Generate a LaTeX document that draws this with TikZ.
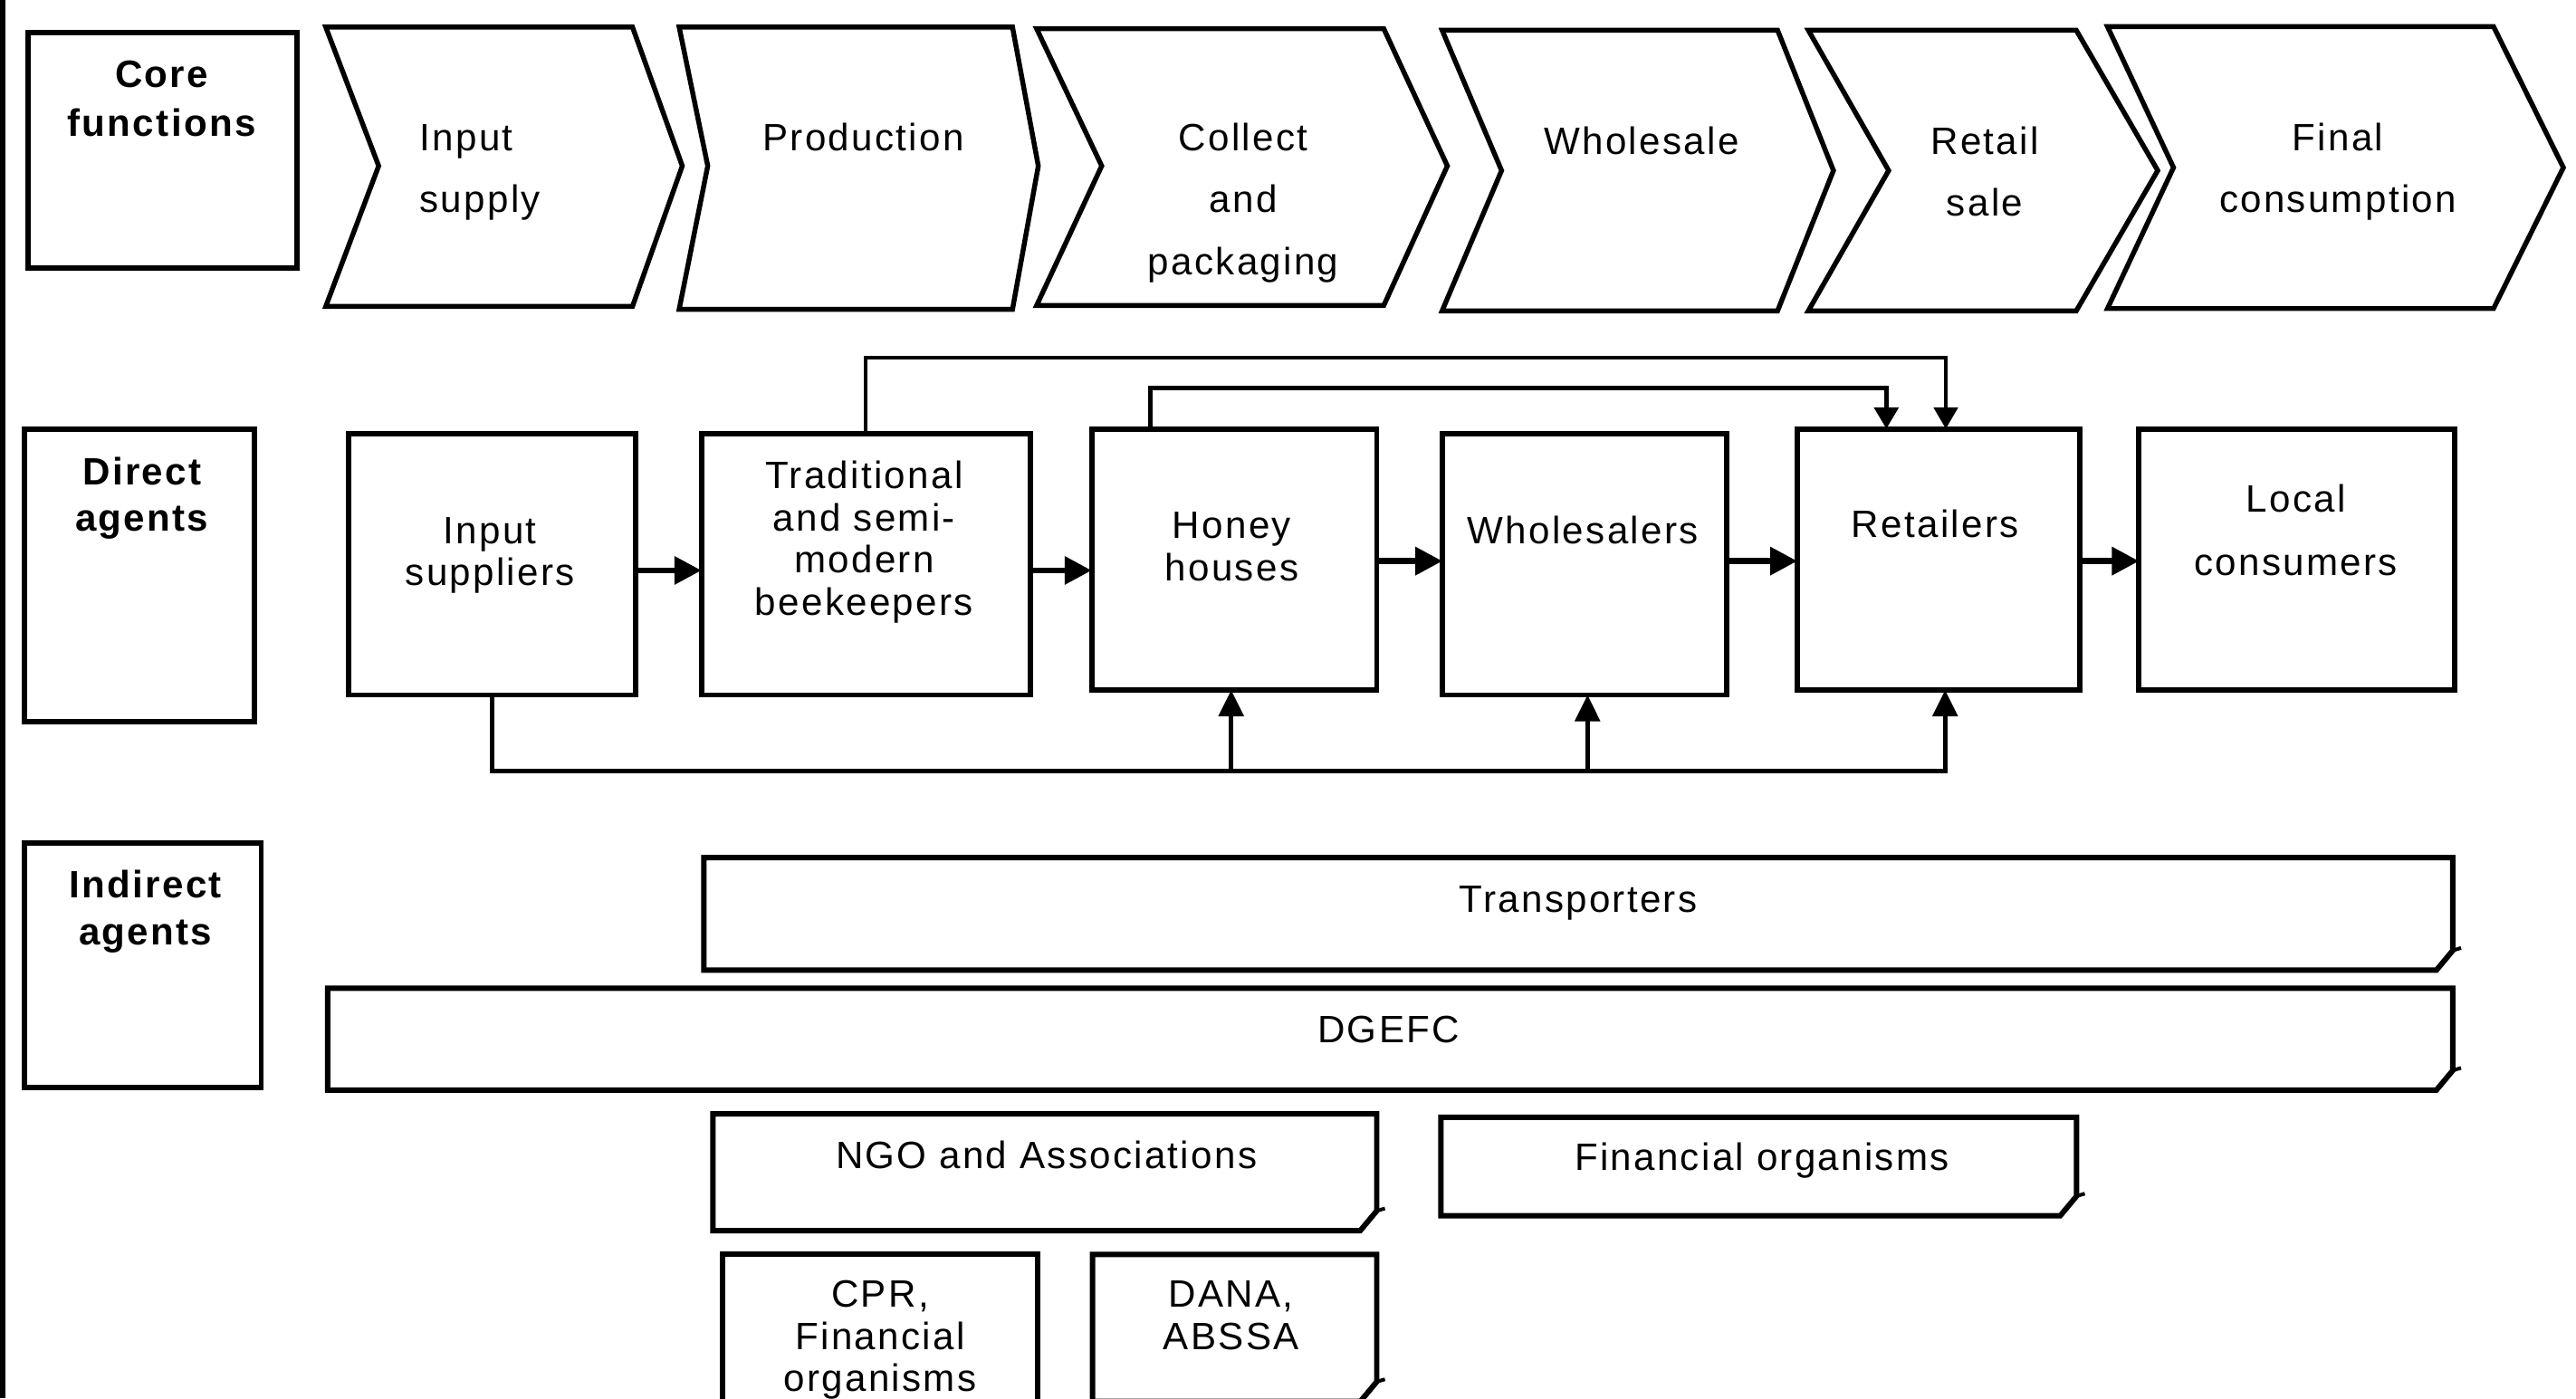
\documentclass[tikz,border=0pt]{standalone}
\usepackage{fontspec}
\setmainfont{Liberation Sans}[LetterSpace=5.5]
\usetikzlibrary{arrows.meta,fit}
\newcommand\fs{\fontsize{23.2}{25.6}\selectfont}
\tikzset{
  boxline/.style={line width=3.3pt, line join=miter},
  chev/.style={line width=3pt, line join=miter, miter limit=30},
  lbl/.style={inner sep=0pt, outer sep=0pt, font=\fs, anchor=base},
  blbl/.style={lbl, font=\fs\bfseries},
  harrow/.style={line width=3.7pt, -{Triangle[length=16.5pt,width=16.5pt]}},
  uparrow/.style={line width=2.8pt, -{Triangle[length=16pt,width=15pt]}},
  toparrow/.style={line join=miter, -{Triangle[length=13pt,width=14.5pt]}},
}
% rectangle box as a named node
\newcommand\rbox[5]{%
  \node[fit={(#2,#3)(#4,#5)}, inner sep=0pt, outer sep=0pt, draw, boxline] (#1) {};}
% box with cut (folded) bottom-right corner
\newcommand\foldbox[5]{%
  \node[fit={(#2,#3)(#4,#5)}, inner sep=0pt, outer sep=0pt] (#1) {};
  \draw[boxline] (#1.south west) -- (#1.north west) -- (#1.north east)
     -- ([yshift=12pt]#1.south east) -- ([xshift=-10pt]#1.south east) -- cycle;
  \draw[line width=2.2pt] ([yshift=12pt]#1.south east) -- ++(5pt,1.5pt);}
% chevron: L notch R tip T B M
\newcommand\chevron[7]{%
  \draw[chev] (#1,#5) -- (#3,#5) -- (#4,#7) -- (#3,#6) -- (#1,#6) -- (#2,#7) -- cycle;}
\begin{document}
\begin{tikzpicture}[x=1pt,y=-1pt]
\useasboundingbox (0,0) rectangle (1568,851);
\clip (0,0) rectangle (1568,851);
\fill[white] (0,0) rectangle (1568,851);
\fill[black] (0,0) rectangle (3.4,851);

% ---------- row labels ----------
\rbox{core}{17}{20}{181}{163}
\node[blbl] (coreA) at (98.4,53.3) {Core};
\node[blbl] (coreB) at (98.4,82.7) {functions};
\rbox{direct}{15}{261}{155}{439}
\node[blbl] (dirA) at (86.4,294.9) {Direct};
\node[blbl] (dirB) at (86.4,323.3) {agents};
\rbox{indirect}{15}{513}{159}{662}
\node[blbl] (indA) at (88.6,546.2) {Indirect};
\node[blbl] (indB) at (88.6,574.9) {agents};

% ---------- chevrons ----------
\chevron{198.3}{230.5}{385}{415.3}{16.5}{186.5}{101}
\chevron{413.4}{430.8}{616.3}{632}{16.5}{188.3}{101}
\chevron{631}{670.6}{842.3}{881}{17.5}{185.9}{101}
\chevron{877.8}{914}{1082}{1116}{18.4}{189.2}{103.8}
\chevron{1100.7}{1149.6}{1263.8}{1313.4}{18.4}{189.2}{103.8}
\chevron{1282.8}{1323}{1517.8}{1560.3}{16.2}{187.8}{102}
\node[lbl, anchor=base west] (cIS1) at (255.5,91.9) {Input};
\node[lbl, anchor=base west] (cIS2) at (255.5,129.5) {supply};
\node[lbl] (cPR) at (525.5,91.9) {Production};
\node[lbl] (cCO1) at (756.8,91.9) {Collect};
\node[lbl] (cCO2) at (756.8,129.5) {and};
\node[lbl] (cCO3) at (756.8,167.2) {packaging};
\node[lbl] (cWH) at (999.2,93.7) {Wholesale};
\node[lbl] (cRE1) at (1208.1,93.7) {Retail};
\node[lbl] (cRE2) at (1208.1,131.3) {sale};
\node[lbl] (cFI1) at (1423,91.9) {Final};
\node[lbl] (cFI2) at (1423,129.5) {consumption};

% ---------- direct agents ----------
\rbox{insup}{212}{264}{387}{423}
\rbox{trad}{427}{264}{627}{423}
\rbox{honey}{664.5}{261}{838}{420}
\rbox{whole}{878}{264}{1051}{423}
\rbox{retail}{1094}{261}{1266}{420}
\rbox{local}{1302}{261}{1494}{420}
\node[lbl] (tIS1) at (298.3,330.7) {Input};
\node[lbl] (tIS2) at (298.3,356.4) {suppliers};
\node[lbl] (tTR1) at (526,297.6) {Traditional};
\node[lbl] (tTR2) at (526,323.2) {and semi-};
\node[lbl] (tTR3) at (526,348.8) {modern};
\node[lbl] (tTR4) at (526,374.4) {beekeepers};
\node[lbl] (tHO1) at (749.8,327.9) {Honey};
\node[lbl] (tHO2) at (749.8,353.5) {houses};
\node[lbl] (tWH) at (963.5,330.7) {Wholesalers};
\node[lbl] (tRE) at (1177.9,327) {Retailers};
\node[lbl] (tLO1) at (1397.5,311.4) {Local};
\node[lbl] (tLO2) at (1397.5,350) {consumers};

% horizontal flow arrows
\coordinate (yA) at (0,347.2);
\coordinate (yC) at (0,341.5);
\draw[harrow] (insup.east |- yA) -- (trad.west |- yA);
\draw[harrow] (trad.east |- yA) -- (honey.west |- yA);
\draw[harrow] (honey.east |- yC) -- (whole.west |- yC);
\draw[harrow] (whole.east |- yC) -- (retail.west |- yC);
\draw[harrow] (retail.east |- yC) -- (local.west |- yC);

% top connectors
\coordinate (tR) at (1184.4,217.7);
\draw[toparrow, line width=2.2pt] (trad.north) |- (tR) -- (retail.north -| tR);
\coordinate (hL) at (700.1,236);
\coordinate (hR) at (1148.2,236);
\draw[toparrow, line width=2.8pt] (honey.north -| hL) -- (hL) -- (hR) -- (retail.north -| hR);

% bottom connectors
\coordinate (bL) at (299.4,469.5);
\coordinate (bR) at (1184,469.5);
\coordinate (bH) at (749.4,469.5);
\coordinate (bW) at (966.3,469.5);
\draw[uparrow, line join=miter] (insup.south -| bL) -- (bL) -- (bR) -- (retail.south -| bR);
\draw[uparrow] (bH) -- (honey.south -| bH);
\draw[uparrow] (bW) -- (whole.south -| bW);

% ---------- indirect agents ----------
\foldbox{transp}{428.5}{522}{1493}{590.5}
\node[lbl] (tTP) at (960.7,555) {Transporters};
\foldbox{dgefc}{199.5}{601.5}{1493}{663.5}
\node[lbl] (tDG) at (845.2,634.4) {DGEFC};
\foldbox{ngo}{434}{678}{838}{749}
\node[lbl] (tNG) at (636.9,711) {NGO and Associations};
\foldbox{fin}{877}{680}{1264}{740}
\node[lbl] (tFI) at (1072.5,712.6) {Financial organisms};
\rbox{cpr}{440}{763.5}{631.5}{858}
\node[lbl] (tCP1) at (535.7,795.6) {CPR,};
\node[lbl] (tCP2) at (535.7,821.2) {Financial};
\node[lbl] (tCP3) at (535.7,846.8) {organisms};
\foldbox{dana}{665}{763.5}{838}{853}
\node[lbl] (tDA1) at (749.4,795.6) {DANA,};
\node[lbl] (tDA2) at (749.4,821.2) {ABSSA};
\end{tikzpicture}
\end{document}
